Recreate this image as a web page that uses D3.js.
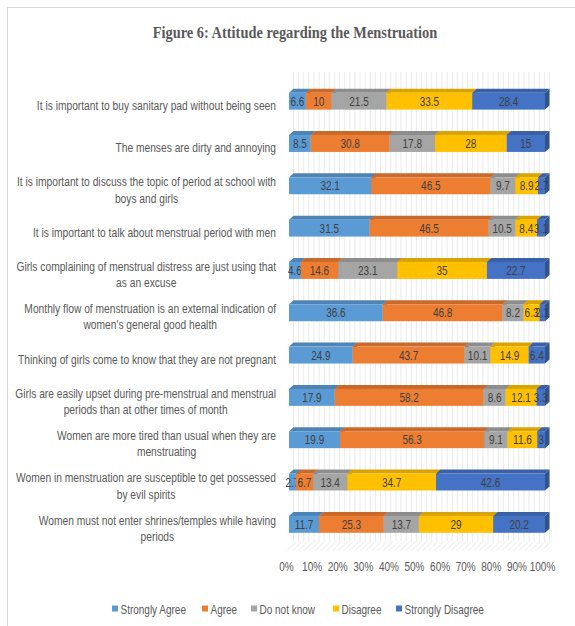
<!DOCTYPE html>
<html>
<head>
<meta charset="utf-8">
<script src="https://cdn.jsdelivr.net/npm/d3@7"></script>
<style>
  body { margin: 0; background: #fff; }
  text { font-family: "Liberation Sans", Arial, sans-serif; }
</style>
</head>
<body>
<svg id="chart" width="575" height="626"></svg>
<script>
// wrapped category labels, top to bottom
var categories = [
  ["It is important to buy sanitary pad without being seen"],
  ["The menses are dirty and annoying"],
  ["It is important to discuss the topic of period at school with", "boys and girls"],
  ["It is important to talk about menstrual period with men"],
  ["Girls complaining of menstrual distress are just using that", "as an excuse"],
  ["Monthly flow of menstruation is an external indication of", "women's general good health"],
  ["Thinking of girls come to know that they are not pregnant"],
  ["Girls are easily upset during pre-menstrual and menstrual", "periods than at other times of month"],
  ["Women are more tired than usual when they are", "menstruating"],
  ["Women in menstruation are susceptible to get possessed", "by evil spirits"],
  ["Women must not enter shrines/temples while having", "periods"]
]

var series = ["Strongly Agree", "Agree", "Do not know", "Disagree", "Strongly Disagree"]

var stronglyAgree    = [6.6, 8.5, 32.1, 31.5, 4.6, 36.6, 24.9, 17.9, 19.9, 2.7, 11.7]
var agree            = [10, 30.8, 46.5, 46.5, 14.6, 46.8, 43.7, 58.2, 56.3, 6.7, 25.3]
var doNotKnow        = [21.5, 17.8, 9.7, 10.5, 23.1, 8.2, 10.1, 8.6, 9.1, 13.4, 13.7]
var disagree         = [33.5, 28, 8.9, 8.4, 35, 6.3, 14.9, 12.1, 11.6, 34.7, 29]
var stronglyDisagree = [28.4, 15, 2.7, 3.1, 22.7, 2.1, 6.4, 3.3, 3, 42.6, 20.2]

var tickValues = [0, 10, 20, 30, 40, 50, 60, 70, 80, 90, 100]

var colors = ["#5B9BD5", "#ED7D31", "#A5A5A5", "#FFC000", "#4472C4"]

var svg = d3.select("#chart")
var depthX = 4.5, depthY = 4
var squeeze = 0.8   // labels in the original use a narrow face

// frame
svg.append("rect")
  .attr("x", 7.5).attr("y", 7.5)
  .attr("width", 600).attr("height", 640)
  .attr("fill", "none")
  .attr("stroke", "#d9d9d9")

svg.append("text")
  .attr("transform", "translate(295,38) scale(0.9,1)")
  .attr("text-anchor", "middle")
  .style("font-family", "'Liberation Serif', 'Times New Roman', serif")
  .style("font-weight", "bold")
  .style("font-size", "16px")
  .attr("fill", "#595959")
  .text("Figure 6: Attitude regarding the Menstruation")

var x = d3.scaleLinear().domain([0, 100]).range([289, 545])
var y = d3.scaleBand().domain(d3.range(categories.length))
  .range([80, 545.5]).paddingInner(0.6).paddingOuter(0.3)

// back wall gridlines (fine striping)
var floorBack = y.range()[1] - 4
svg.append("g").selectAll("line")
  .data(d3.range(0, 101, 2))
  .enter().append("line")
    .attr("x1", d => x(d) + depthX).attr("x2", d => x(d) + depthX)
    .attr("y1", 72).attr("y2", floorBack)
    .attr("stroke", "#e6e6e6")
    .attr("stroke-width", 0.8)

// hatched floor
var pat = svg.append("defs").append("pattern")
  .attr("id", "hatch")
  .attr("width", 4).attr("height", 4)
  .attr("patternUnits", "userSpaceOnUse")
  .attr("patternTransform", "rotate(45)")
pat.append("line").attr("x1", 0).attr("y1", 0).attr("x2", 0).attr("y2", 4)
  .attr("stroke", "#e3e3e3").attr("stroke-width", 1.2)

var fb = floorBack, ff = floorBack + 9
svg.append("path")
  .attr("d", `M${x(0) - 4},${ff} L${x(100) + 2},${ff} L${x(100) + 9},${fb} L${x(0) + 3},${fb} Z`)
  .attr("fill", "url(#hatch)")

// stacked data
var values = [stronglyAgree, agree, doNotKnow, disagree, stronglyDisagree]
var rows = categories.map(function(c, i) {
  var total = d3.sum(values, v => v[i])
  var acc = 0
  return values.map(function(v, s) {
    var x0 = acc / total * 100
    acc += v[i]
    return { row: i, s: s, value: v[i], x0: x0, x1: acc / total * 100 }
  })
})

var bw = y.bandwidth()
var rowG = svg.append("g").selectAll("g")
  .data(rows)
  .enter().append("g")

var seg = rowG.selectAll("g")
  .data(d => d)
  .enter().append("g")

seg.each(function(d) {
  var g = d3.select(this)
  var a = x(d.x0), b = x(d.x1), t = y(d.row), btm = t + bw
  var c = d3.color(colors[d.s])
  // side
  g.append("path")
    .attr("d", `M${b},${t} L${b + depthX},${t - depthY} L${b + depthX},${btm - depthY} L${b},${btm} Z`)
    .attr("fill", c.darker(0.9))
  // top
  g.append("path")
    .attr("d", `M${a},${t} L${a + depthX},${t - depthY} L${b + depthX},${t - depthY} L${b},${t} Z`)
    .attr("fill", c.darker(0.45))
  // front
  g.append("rect")
    .attr("x", a).attr("y", t)
    .attr("width", b - a).attr("height", bw)
    .attr("fill", colors[d.s])
})

// value labels
seg.append("text")
  .attr("transform", d => `translate(${(x(d.x0) + x(d.x1)) / 2},${y(d.row) + bw / 2 + 4.5}) scale(${squeeze},1)`)
  .attr("text-anchor", "middle")
  .style("font-size", "12.5px")
  .attr("fill", "#404040")
  .text(d => d.value)

// category labels
var lineH = 16.5
var catG = svg.append("g").selectAll("text")
  .data(categories)
  .enter().append("text")
    .attr("transform", function(d, i) {
      var cy = y(i) + bw / 2 + 4 - (d.length - 1) * lineH / 2
      return `translate(276,${cy + 4.5}) scale(0.82,1)`
    })
    .style("font-size", "12.5px")
    .attr("fill", "#595959")

catG.each(function(d) {
  var t = d3.select(this)
  d.forEach(function(line, k) {
    t.append("tspan")
      .attr("x", 0)
      .attr("dy", k === 0 ? 0 : lineH)
      .attr("text-anchor", "end")
      .text(line)
  })
})

// second lines of wrapped labels are centred under the first line
catG.each(function(d) {
  if (d.length < 2) return
  var spans = d3.select(this).selectAll("tspan").nodes()
  var w0 = spans[0].getComputedTextLength()
  for (var k = 1; k < spans.length; k++) {
    d3.select(spans[k]).attr("x", -w0 / 2).attr("text-anchor", "middle")
  }
})

// x axis tick labels
svg.append("g").selectAll("text")
  .data(tickValues)
  .enter().append("text")
    .attr("transform", d => `translate(${x(d) - 2.5},571) scale(${squeeze},1)`)
    .attr("text-anchor", "middle")
    .style("font-size", "12.5px")
    .attr("fill", "#595959")
    .text(d => d + "%")

// legend
var legendX = [112, 202, 251, 333, 396]
var leg = svg.append("g").selectAll("g")
  .data(series)
  .enter().append("g")
    .attr("transform", (d, i) => `translate(${legendX[i]},609)`)
leg.append("rect")
  .attr("x", 0).attr("y", -3.5)
  .attr("width", 6).attr("height", 6)
  .attr("fill", (d, i) => colors[i])
leg.append("text")
  .attr("transform", `translate(8.5,4.5) scale(${squeeze},1)`)
  .style("font-size", "12.5px")
  .attr("fill", "#595959")
  .text(d => d)
</script>
</body>
</html>
